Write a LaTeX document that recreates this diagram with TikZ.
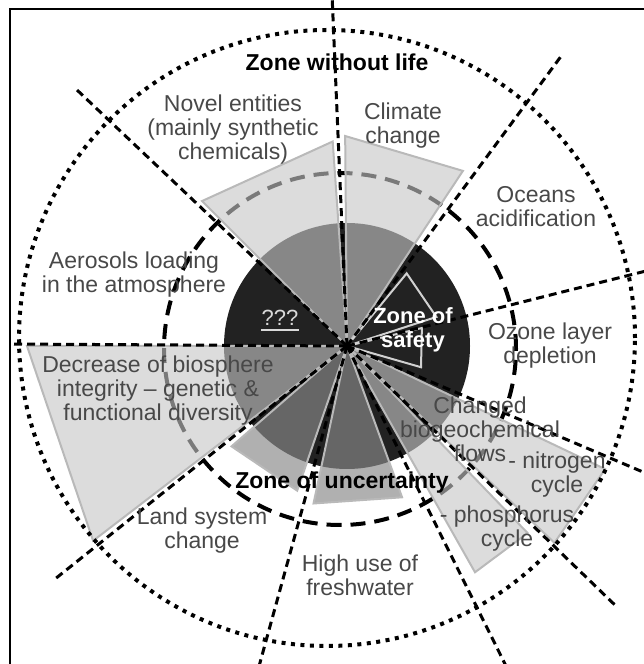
\documentclass[tikz,border=0pt]{standalone}
\usepackage{fontspec}
\setmainfont{Liberation Sans}
\usetikzlibrary{calc}
\definecolor{labelgray}{RGB}{72,72,72}
\definecolor{discdark}{RGB}{34,34,34}
\definecolor{wedgeedge}{RGB}{185,185,185}
\definecolor{wedgelight}{RGB}{198,198,198}
\definecolor{wedgemid}{RGB}{136,136,136}
\newcommand{\pbwedge}[4]{\draw[#1] (C) -- ($(C)+(#2:#4)$) -- ($(C)+(#3:#4)$) -- cycle;}

\begin{document}
\begin{tikzpicture}[x=1pt, y=1pt,
  lbl/.style={font=\fontsize{23}{24}\selectfont, text=labelgray, align=center, inner sep=0pt},
  zonetitle/.style={font=\fontsize{23}{24}\selectfont\bfseries, align=center, inner sep=0pt},
  ray/.style={line width=3pt, dash pattern=on 8pt off 5pt},
  lightwedge/.style={draw=wedgeedge, line width=2pt, fill=wedgelight, fill opacity=0.62},
  midwedge/.style={draw=wedgeedge, line width=2pt, fill=wedgemid, fill opacity=0.665},
  safewedge/.style={draw=white!82!black, line width=2pt, line join=miter}
]
\useasboundingbox (0,0) rectangle (644,664);
\clip (0,0) rectangle (644,664);
\coordinate (C) at (347,318);

\draw[line width=2.5pt] (10,-5) -- (10,655) -- (650,655);

\fill[discdark] (C) circle (123);
\draw[line width=4pt, dash pattern=on 15pt off 9pt] (340,315) circle (176);

\pbwedge{lightwedge}{94}{135}{205}
\pbwedge{lightwedge}{56.5}{90.5}{210}
\pbwedge{lightwedge}{-25.5}{-43.5}{286}
\pbwedge{lightwedge}{-46}{-60.5}{260}
\pbwedge{midwedge}{-70}{-102}{161}
\pbwedge{midwedge}{-109}{-139}{153}
\pbwedge{lightwedge}{-142.5}{-180}{320}
\pbwedge{safewedge}{18}{50.6}{94}
\pbwedge{safewedge}{-16}{13.5}{77}

\draw[line width=4pt, dash pattern=on 4pt off 5.5pt] (327,326) circle (308);

\foreach \p in {(332,670), (77,574), (10,320), (55,85), (258,-6),
                (508,-6), (617,57), (650,189), (650,394), (562,609)}
  \draw[ray] (C) -- \p;

\node[zonetitle] (nolife) at (337,602) {Zone without life};
\node[zonetitle] (uncert) at (342,181) {Zone of uncertainty};
\node[zonetitle, text=white, font=\fontsize{22}{24}\selectfont\bfseries] (safety) at (413,334) {Zone of\\safety};
\node[lbl, text=white!85!black, font=\fontsize{22}{24}\selectfont] (unknown) at (280,346) {???};
\draw[white!85!black, line width=1.8pt] ([yshift=-4pt]unknown.south west) -- ([yshift=-4pt]unknown.south east);

\node[lbl] (novel) at (233,534) {Novel entities\\(mainly synthetic\\chemicals)};
\node[lbl] (climate) at (403,538) {Climate\\change};
\node[lbl] (oceans) at (536,457) {Oceans\\acidification};
\node[lbl] (aerosol) at (134,389) {Aerosols loading\\in the atmosphere};
\node[lbl] (ozone) at (550,318) {Ozone layer\\depletion};
\node[lbl] (flows) at (480,235) {Changed\\biogeochemical\\flows};
\node[lbl] (nitro) at (557,189) {- nitrogen\\cycle};
\node[lbl] (phos) at (507,135) {- phosphorus\\cycle};
\node[lbl] (water) at (360,89) {High use of\\freshwater};
\node[lbl] (land) at (202,133) {Land system\\change};
\node[lbl] (bio) at (158,273) {Decrease of biosphere\\integrity -- genetic \&\\functional diversity};
\end{tikzpicture}
\end{document}
